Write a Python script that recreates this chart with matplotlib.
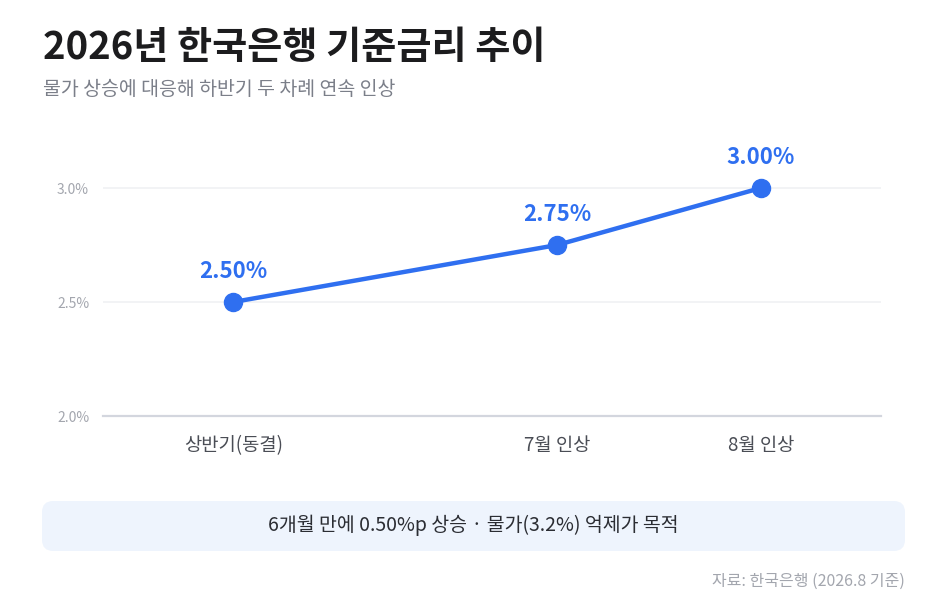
import matplotlib
matplotlib.use("Agg")
import matplotlib.pyplot as plt
from matplotlib.patches import FancyBboxPatch

plt.rcParams['font.family'] = ['Noto Sans CJK KR', 'DejaVu Sans']

# --- data ---
categories = ['상반기(동결)', '7월 인상', '8월 인상']
x_pos = [5.41, 7.0, 8.0]          # timeline position of each step
rates = [2.50, 2.75, 3.00]
rate_labels = ['2.50%', '2.75%', '3.00%']
y_ticks = [2.0, 2.5, 3.0]
y_tick_labels = ['2.0%', '2.5%', '3.0%']

title = '2026년 한국은행 기준금리 추이'
subtitle = '물가 상승에 대응해 하반기 두 차례 연속 인상'
note = '6개월 만에 0.50%p 상승 · 물가(3.2%) 억제가 목적'
source = '자료: 한국은행 (2026.8 기준)'

BLUE = '#2f6ff0'

fig = plt.figure(figsize=(9.31, 5.92), dpi=100)
W, H = 931, 592

ax = fig.add_axes([103 / W, (H - 416) / H, 778 / W, (416 - 142.4) / H])
ax.plot(x_pos, rates, color=BLUE, linewidth=3.2, marker='o', markersize=13,
        solid_capstyle='round', zorder=3)
for x, y, lab in zip(x_pos, rates, rate_labels):
    ax.annotate(lab, (x, y), xytext=(0, 14), textcoords='offset points',
                ha='center', va='bottom', fontsize=16, fontweight='bold',
                color=BLUE)

ax.set_xlim(4.77, 8.59)
ax.set_ylim(2.0, 3.2)
ax.set_yticks(y_ticks)
ax.set_yticklabels(y_tick_labels)
ax.set_xticks(x_pos)
ax.set_xticklabels(categories)
ax.tick_params(axis='y', length=0, pad=10, labelsize=10, labelcolor='#a3a6ae')
ax.tick_params(axis='x', length=0, pad=14, labelsize=13.5, labelcolor='#4a4d55')
for s in ['top', 'right', 'left']:
    ax.spines[s].set_visible(False)
ax.spines['bottom'].set_color('#d3d6de')
ax.spines['bottom'].set_linewidth(1.6)
for y in y_ticks[1:]:
    ax.axhline(y, color='#f0f1f3', linewidth=1.2, zorder=0)

# titles
fig.text(43 / W, 1 - 47 / H, title, fontsize=27.5, fontweight='bold',
         color='#1c1c1e', ha='left', va='center')
fig.text(43 / W, 1 - 90 / H, subtitle, fontsize=14, color='#7b7f89',
         ha='left', va='center')

# note box
box = FancyBboxPatch((42 / W, 1 - 551 / H), (905 - 42) / W, 50 / H,
                     boxstyle='round,pad=0,rounding_size=0.012',
                     transform=fig.transFigure, facecolor='#eef4fd',
                     edgecolor='none', mutation_aspect=W / H)
fig.patches.append(box)
fig.text((42 + 905) / 2 / W, 1 - 525 / H, note, fontsize=14,
         color='#2b2d33', ha='center', va='center')

fig.text(905 / W, 1 - 581 / H, source, fontsize=11.5, color='#a3a6ae',
         ha='right', va='center')

fig.savefig('out.png', dpi=100)
